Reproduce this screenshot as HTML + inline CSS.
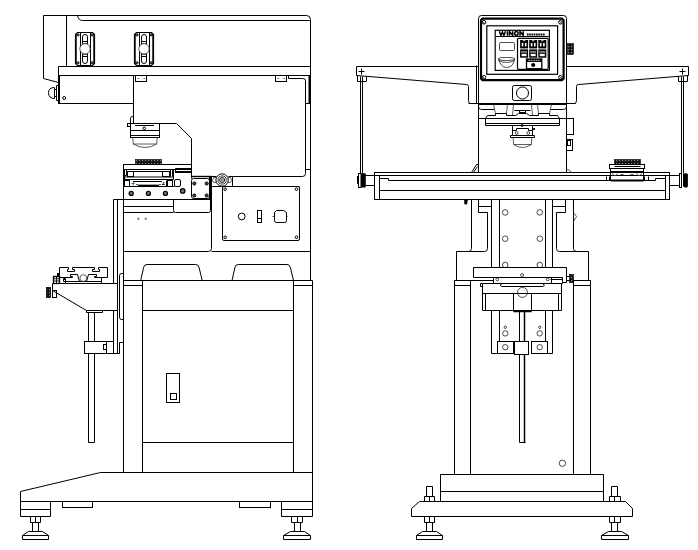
<!DOCTYPE html>
<html><head><meta charset="utf-8"><title>Pad printer drawing</title>
<style>
html,body{margin:0;padding:0;background:#fff;}
body{width:698px;height:550px;overflow:hidden;font-family:"Liberation Sans",sans-serif;}
svg{display:block;}
.l{fill:none;stroke:#000;stroke-width:1;}
.t{fill:none;stroke:#000;stroke-width:.7;}
.g{fill:none;stroke:#333;stroke-width:.8;}
.k{fill:none;stroke:#000;stroke-width:1.8;}
.w{fill:#fff;stroke:#000;stroke-width:1;}
.b{fill:#000;stroke:none;}
.d{fill:#333;stroke:#000;stroke-width:.8;}
</style></head><body>
<svg width="698" height="550" viewBox="0 0 698 550">
<defs>
<pattern id="hx" width="3" height="3" patternUnits="userSpaceOnUse"><rect width="3" height="3" fill="#111"/><rect x="1" y="1" width="1.2" height="1.2" fill="#888"/></pattern>
<g id="clamp">
<path d="M77.5,32.5H92.5L94.5,34.5V63.5L92.5,65.5H77.5L75.5,63.5V34.5Z" stroke-width="1.2"/>
<path class="t ns" d="M76.5,34V64M93.5,34V64"/>
<path d="M80.5,32.5V65.5M90.5,32.5V65.5"/>
<path class="ns" d="M82.5,37Q82.5,34.5 85,34.5Q87.5,34.5 87.5,37V61Q87.5,63.5 85,63.5Q82.5,63.5 82.5,61Z"/>
<path d="M82.5,41.5H87.5M82.5,56.5H87.5"/><path class="g ns" d="M82.5,43.5H87.5M82.5,54.5H87.5"/>
<circle cx="85" cy="48.8" r="5.2" fill="#fff" stroke="#333" stroke-width=".8"/>
<g stroke-width=".9" fill="#999"><circle cx="78.1" cy="34.9" r="1.1"/><circle cx="92.1" cy="34.9" r="1.1"/><circle cx="78.1" cy="62.8" r="1.1"/><circle cx="92.1" cy="62.8" r="1.1"/></g>
</g>
</defs>
<rect width="698" height="550" fill="#fff"/>
<!-- ================= LEFT MACHINE (side view) ================= -->
<g class="l">
<!-- top housing -->
<path d="M43.5,78.5V15.5H306.5Q310.5,15.5,310.5,19.5V280.5"/>
<path d="M43.5,78.5L58.5,82.5"/>
<path d="M66.5,15.5V66.5"/>
<path d="M77.5,15.5Q78.5,20.5,82.5,20.5H310.5"/>
<path d="M58.5,66.5H310.5M58.5,75.5H310.5"/>
<path d="M58.5,66.5V75.5"/><rect class="b" x="58" y="75" width="2" height="29"/>
<path d="M58.5,103.5H133.5M133.5,75.5V123.5"/>
<circle cx="64.2" cy="98" r="1.5"/>
<!-- knob -->
<path d="M56.5,85.5H58.5V100.5H56.5ZM54.5,89.5H56.5M54.5,96.5H56.5"/>
<path d="M54.5,87.5V98.5Q48.5,98.5,48.5,92.5Q48.5,87.5,54.5,87.5Z"/>
<!-- clamps -->
<use href="#clamp"/>
<use href="#clamp" x="59"/>
<!-- brackets under housing -->
<rect x="135.5" y="75.5" width="11" height="6"/>
<rect x="275.5" y="75.5" width="11" height="6"/>
<path class="g" d="M137.5,78.5h1.6M143.5,78.5h1.6M277.5,78.5h1.6M283.5,78.5h1.6"/>
<path d="M288.5,75.5V78.5H302.5Q305.5,78.5,305.5,80.5V173.5Q305.5,176.5,302.5,176.5H232.5V186.5"/>
<rect class="b ns" x="308.5" y="75" width="2" height="29"/>
<path d="M305.5,103.5H310.5M305.5,169.5H310.5"/>
<!-- pad head -->
<path d="M130.5,123.5H176.5L191.5,138.5V178.5"/>
<rect x="130.5" y="123.5" width="29" height="14"/>
<path d="M130.5,130.5H159.5M130.5,135.5H159.5"/>
<path class="ns" d="M135,125.5H154"/>
<circle cx="144.2" cy="128.3" r="1.3"/>
<path d="M130.5,123.5V118.5Q130.5,116.5,132.5,116.5H133.5"/>
<rect x="127.5" y="123.5" width="3" height="3"/>
<path class="g ns" d="M132.8,137.5L133.3,144H156.7L157.2,137.5" stroke="#222"/>
<path class="g ns" d="M133.3,144Q145,151 156.7,144" stroke="#222"/>
</g>
<g class="l">
<!-- cliche block + plate -->
<rect x="135.5" y="159.5" width="26" height="5" fill="url(#hx)" stroke-width=".6"/>
<rect x="123.5" y="164.5" width="68" height="5"/>
<!-- ink cup carriage -->
<path d="M124.5,169.5V186.5M126.5,169.5V175.5H124.5M127.5,171.5H169.5M170.5,169.5V176.5M172.5,169.5V176.5M173.5,169.5V179.5"/>
<rect x="127.5" y="171.5" width="6" height="5"/>
<rect x="162.5" y="171.5" width="7" height="5"/>
<path class="l ns" d="M124.5,177H173.5M124.5,179.5H173.5M133,181.5H162"/>
<rect x="124.5" y="180.5" width="5" height="6"/>
<rect x="167.5" y="180.5" width="5" height="6"/>
<path d="M166.5,180.5V186.5"/>
<rect x="174.5" y="179.5" width="6" height="7" rx="1.5"/>
<path class="ns" d="M138,185.5H159" stroke-width="1.7"/>
<path class="g ns" d="M136,184.5H138M159,184.5H161"/>
<path class="ns" stroke="#090" stroke-width=".8" d="M131.3,183.5h3.6M133.2,182v3.6M162.3,183h2.6M163.6,181.8v2.4"/>
<path class="ns" d="M162,184.5H164.7" stroke-width=".9"/>
<!-- bar right of carriage -->
<path d="M175.5,168.5H191.5M175.5,168.5V172.5"/>
<rect class="b" x="175" y="171" width="17" height="2"/>
<!-- lower block -->
<path d="M123.5,169.5V199.5M123.5,186.5H174.5"/>
<g fill="#777" stroke-width="1.3"><circle cx="131.2" cy="193.4" r="2"/><circle cx="148.4" cy="193.4" r="2"/><circle cx="165.4" cy="193.4" r="2"/><circle cx="182.7" cy="190.9" r="2.2"/></g>
<!-- motor plate -->
<path d="M191.5,176.5H211.5" stroke-width="1.4"/>
<rect x="191.5" y="178.5" width="18" height="20" rx="2.2"/>
<g fill="#444" stroke-width=".9"><circle cx="194.3" cy="183.5" r="1.6"/><circle cx="206.7" cy="183.5" r="1.6"/><circle cx="194.3" cy="195.5" r="1.6"/><circle cx="206.7" cy="195.5" r="1.6"/></g>
<rect class="b" x="209" y="176" width="3" height="23"/>
<!-- roller -->
<path d="M211.5,176.5H216.5M228.5,176.5H232.5M211.5,186.5H299.5"/>
<path class="g" d="M216.5,177.5H213.5L212.5,180.5L213.5,182.5H216.5M227.5,177.5H230.5L231.5,180.5L230.5,182.5H227.5"/>
<circle cx="222.1" cy="180" r="6.2" fill="#fff"/><circle cx="222.1" cy="180" r="4.1" stroke="#222" stroke-width=".9"/><circle cx="222.1" cy="180" r="2.5" stroke-width=".9"/><circle cx="222.1" cy="180" r="1.1" class="g" stroke-width=".5"/>
<!-- horizontal below -->
<path d="M113.5,199.5H211.5"/>
<path d="M123.5,206.5H173.5M123.5,212.5H173.5"/>
<path d="M173.5,199.5V210.5Q173.5,212.5,175.5,212.5H208.5Q210.5,212.5,210.5,210.5V199.5"/>
<path d="M211.5,176.5V248.5Q211.5,251.5,208.5,251.5H124.5Q123.5,251.5,123.5,252.5"/>
<path d="M211.5,251.5H310.5"/>
<path class="ns" stroke="none" d="M137,218.8l1.3,-1.5l1.3,1.5l-1.3,1.5zM144.5,218.8l1.3,-1.5l1.3,1.5l-1.3,1.5z" fill="#777"/>
<!-- control panel -->
<rect x="222.5" y="186.5" width="77" height="54" rx="1.5"/>
<circle cx="225.2" cy="189.2" r="1.3"/><circle cx="296.5" cy="189.2" r="1.3"/><circle cx="225.2" cy="237.3" r="1.3"/><circle cx="296.5" cy="237.3" r="1.3"/>
<circle cx="241.7" cy="216.5" r="3.4"/>
<rect x="257.5" y="210.5" width="4" height="12"/><path d="M257.5,218.5H261.5"/>
<path d="M274.5,212.5V220.5Q274.5,222.5,276.5,222.5H284.5Q286.5,222.5,286.5,220.5V212.5L283.5,210.5H276.5Z"/>
<path class="t" d="M272.5,216.5H274.5M286.5,216.5H287.5"/>
<!-- column -->
<path d="M113.5,199.5V283.5M113.5,310.5V353.5M117.5,199.5V353.5M123.5,199.5V472.5"/>
</g>
<g class="l">
<!-- cabinet -->
<path d="M123.5,280.5H312.5V516.5"/>
<path d="M123.5,285.5H142.5M293.5,285.5H312.5"/>
<path d="M142.5,280.5V472.5M293.5,280.5V472.5"/>
<path d="M142.5,310.5H293.5M142.5,442.5H293.5"/>
<path class="ns" d="M140.7,280.5L143.7,267.2Q144.3,264.5 147,264.5H195.7Q198.4,264.5 199,267.2L202.2,280.5"/>
<path class="ns" d="M232,280.5L235,267.2Q235.6,264.5 238.3,264.5H287Q289.7,264.5 290.3,267.2L293.5,280.5"/>
<rect x="166.5" y="373.5" width="13" height="29"/>
<rect x="170.5" y="393.5" width="6" height="6"/>
<!-- base -->
<path d="M312.5,472.5H100.5L20.5,491.5V516.5H50.5V501.5"/>
<path d="M20.5,501.5H312.5M20.5,509.5H50.5M281.5,509.5H312.5M281.5,501.5V516.5H312.5"/>
<rect x="62.5" y="501.5" width="30" height="6"/>
<rect x="239.5" y="501.5" width="31" height="6"/>
<!-- feet -->
<path d="M30.5,516.5V522.5H40.5V516.5M35.5,516.5V522.5M32.5,522.5V531.5M38.5,522.5V531.5M28.5,531.5H42.5L48.5,535.5V539.5H22.5V535.5ZM22.5,535.5H48.5"/>
<path d="M291.5,516.5V522.5H302.5V516.5M297.5,516.5V522.5M294.5,522.5V531.5M300.5,522.5V531.5M290.5,531.5H304.5L310.5,535.5V539.5H283.5V535.5ZM283.5,535.5H310.5"/>
<!-- handle on column -->
<path d="M123.5,273.5H121.5Q119.5,273.5,119.5,275.5V317.5Q119.5,319.5,121.5,319.5H123.5M123.5,342.5H119.5V353.5H113.5"/>
<!-- side table bracket -->
<path d="M117.5,283.5H52.5V290.5L86.5,310.5H117.5"/>
<path d="M86.5,310.5V312.5H102.5V310.5"/>
<path d="M88.5,312.5V341.5M94.5,312.5V341.5M88.5,353.5V442.5H94.5V353.5"/>
<rect x="84.5" y="341.5" width="29" height="12"/>
<path d="M106.5,341.5V353.5"/><rect x="103.5" y="344.5" width="3" height="5"/>
<!-- T-slot table -->
<path d="M59.5,283.5V267.5H68.5V269.5H67.5V271.5H74.5V269.5H72.5V267.5H94.5V269.5H92.5V271.5H99.5V269.5H98.5V267.5H107.5V277.5H94.5V276.5H96.5V274.5H88.5L86.5,281.5M59.5,277.5H72.5V276.5H70.5V274.5H77.5L79.5,281.5"/>
<path d="M65.5,281.5H101.5M101.5,277.5V283.5M63.5,278.5H65.5V283.5M63.5,278.5V281.5H65.5"/><rect class="b" x="64" y="279" width="1" height="1"/>
<circle cx="83.3" cy="278.1" r="3.4" class="g"/>
<rect x="53.5" y="276.5" width="6" height="7" stroke-width="1.3"/><path class="ns" d="M56.5,276.5V283.5M53.5,278.7H59.5M53.5,281H59.5" stroke-width=".9"/>
<rect class="b" x="57" y="273" width="2" height="3"/>
<rect x="46.5" y="287.5" width="4" height="10" fill="url(#hx)" stroke-width=".8"/>
<rect x="52.5" y="290.5" width="4" height="7"/>
</g>
<!-- ================= RIGHT MACHINE (front view) ================= -->
<defs>
<g id="rhalf">
<!-- wing -->
<path d="M478.5,66.5H356.5V75.5L466.5,84.5Q468.5,84.5,468.5,86.5V100.5Q468.5,103.5,470.5,103.5H478.5"/>
<!-- table left end -->
<circle cx="505.2" cy="212.4" r="2.8" class="t"/><circle cx="505.2" cy="238.7" r="2.8" class="t"/><circle cx="505.2" cy="265" r="2.8" class="t"/>
<!-- slide half -->
<path d="M493.5,277.5V283.5"/>
<circle cx="497.3" cy="279.4" r="1.4" class="t"/>
<!-- clamp half -->
<rect x="497.5" y="341.5" width="16" height="12"/>
<circle cx="505.3" cy="347.2" r="2.7" class="t"/><circle cx="505.3" cy="333.4" r="2.7" class="t"/><circle cx="505.3" cy="327.3" r="1.2" class="t"/>
</g>
</defs>
<g class="l">
<use href="#rhalf"/>
<use href="#rhalf" transform="translate(1045,0) scale(-1,1)"/>
<!-- under table L -->
<path d="M471.5,199.5V248.5Q471.5,251.5,468.5,251.5"/>
<path d="M478.5,199.5V212.5H487.5V248.5Q487.5,251.5,484.5,251.5H456.5V280.5"/>
<path d="M478.5,206.5H491.5"/>
<path d="M491.5,199.5V267.5M499.5,199.5V267.5M491.5,310.5V353.5M499.5,310.5V341.5"/>
<path d="M493.5,280.5H454.5V474.5M470.5,280.5V474.5M454.5,285.5H470.5"/>
<!-- under table R -->
<path d="M573.5,199.5V248.5Q573.5,251.5,576.5,251.5"/>
<path d="M565.5,199.5V212.5H556.5V248.5Q556.5,251.5,559.5,251.5H588.5V280.5"/>
<path d="M565.5,206.5H552.5"/>
<path d="M552.5,199.5V267.5M545.5,199.5V267.5M552.5,310.5V353.5M545.5,310.5V341.5"/>
<path d="M573.5,280.5H590.5V474.5M573.5,280.5V474.5M573.5,285.5H590.5"/>
<!-- base -->
<path d="M440.5,501.5V474.5H603.5V501.5M440.5,491.5H603.5"/>
<path d="M419.5,501.5L411.5,508.5V516.5H632.5V508.5L625.5,501.5Z"/>
<path d="M426.5,496.5V486.5H432.5V496.5M424.5,501.5V496.5H434.5V501.5M429.5,496.5V501.5"/>
<path d="M424.5,516.5V522.5H434.5V516.5M429.5,516.5V522.5M426.5,522.5V531.5M432.5,522.5V531.5M422.5,531.5H436.5L442.5,535.5V539.5H416.5V535.5ZM416.5,535.5H442.5"/>
<path d="M611.5,496.5V486.5H617.5V496.5M609.5,501.5V496.5H620.5V501.5M614.5,496.5V501.5"/>
<path d="M609.5,516.5V522.5H620.5V516.5M614.5,516.5V522.5M611.5,522.5V531.5M617.5,522.5V531.5M608.5,531.5H621.5L628.5,535.5V539.5H601.5V535.5ZM601.5,535.5H628.5"/>
<!-- table -->
<rect class="ns" x="374.5" y="172.5" width="295" height="27"/>
<path class="ns" d="M374.5,175.5H669.5M379.5,175.5V199.5M665.5,175.5V199.5M379.5,190.5H665.5M388.5,180.5H655.5M379.5,178.5H388.5V180.5M665.5,178.5H655.5V180.5"/>
<!-- left knob/rod -->
<path d="M358.5,71.5H364.5M361.5,68.5V74.5"/>
<path d="M357.5,75.5V81.5H366.5V76.5"/>
<path d="M360.5,76.5V175.5M362.5,76.5V175.5"/>
<path d="M365.5,175.5H374.5M365.5,185.5H374.5"/>
<rect class="b ns" x="361" y="173.3" width="4.8" height="14.2" rx="1"/>
<rect class="ns" x="358.5" y="173.5" width="2.5" height="14" fill="#fff"/>
<rect class="b ns" x="357" y="176" width="1.2" height="7.8"/>
<!-- right knob/rod -->
<path d="M679.5,71.5H685.5M682.5,68.5V74.5"/>
<path d="M678.5,76.5V81.5H687.5V75.5"/>
<path d="M681.5,76.5V173.5M683.5,76.5V173.5"/>
<path d="M669.5,175.5H679.5M669.5,185.5H679.5"/>
<rect class="ns" x="679.5" y="173.5" width="2" height="14" fill="#fff"/>
<path d="M683.5,173.5V186.5"/>
<rect class="b ns" x="683.6" y="173.2" width="4.3" height="14.4" rx="1.6"/>
<!-- control box -->
<path d="M478.5,172.5V18.5Q478.5,15.5,481.5,15.5H563.5Q566.5,15.5,566.5,18.5V172.5"/>
<path d="M476.5,65.5V103.5" />
<path class="ns" d="M482.6,18.6H562L563.6,20.2V78.6L562,80.2H482.6L481,78.6V20.2Z" stroke-width="2.2"/>
<rect x="486.8" y="25.8" width="70.8" height="48.5" stroke-width="1.2"/>
<circle cx="484" cy="22.3" r="1.8"/><circle cx="560.4" cy="22.3" r="1.8"/><circle cx="484" cy="77.3" r="1.8"/><circle cx="560.4" cy="77.3" r="1.8"/>
<path class="t" d="M482.5,21.5l2.4,2.4M559.5,21.5l2.4,2.4M482.5,76.5l2.4,2.4M559.5,76.5l2.4,2.4"/>
<!-- display -->
<rect x="495.2" y="30.3" width="54.2" height="40.1" stroke-width="1.2"/>
<path d="M495.5,36.5H549.5"/>
<path class="ns" d="M499.3,31.3L500.9,35.5L502.4,32L503.9,35.5L505.5,31.3M507.4,31.2V35.7M509.4,35.7V31.4L512.7,35.5V31.2M520,35.7V31.4L523.2,35.5V31.2" stroke-width="1.5" stroke-linejoin="miter"/>
<ellipse cx="516.4" cy="33.45" rx="1.7" ry="1.85" stroke-width="1.5"/>
<path class="ns" d="M526.8,34.6H544.8" stroke="#111" stroke-width="2" stroke-dasharray="1.8 .5"/>
<rect x="499.5" y="42.5" width="15" height="8" rx="1.2" class="t" stroke="#222"/>
<path class="t" d="M498.5,58.5Q498.5,57.5,506.5,57.5Q514.5,57.5,514.5,58.5Q514.5,60.5,506.5,60.5Q498.5,60.5,498.5,58.5Q500.5,67.5,506.5,67.5Q513.5,67.5,514.5,58.5M498.5,60.5Q506.5,64.5,514.5,60.5"/>
<!-- keypad -->
<rect x="517.5" y="38.4" width="30.7" height="31" rx="1.2" stroke-width="1.2"/>
<rect class="b ns" x="520.1" y="40" width="8" height="8.4"/><rect class="b ns" x="520.1" y="49.4" width="8" height="8.3"/><rect class="b ns" x="529.2" y="40" width="8" height="8.4"/><rect class="b ns" x="529.2" y="49.4" width="8" height="8.3"/><rect class="b ns" x="538.3" y="40" width="8" height="8.4"/><rect class="b ns" x="538.3" y="49.4" width="8" height="8.3"/>
<g fill="#fff" stroke="none"><rect class="ns" x="521.7" y="43" width="1.6" height="3.4"/><rect class="ns" x="524.9" y="43" width="1.6" height="3.4"/><rect class="ns" x="522.9" y="40.3" width="2.4" height=".9"/><rect class="ns" x="521.1" y="51.5" width="6" height=".9"/><rect class="ns" x="521.6" y="53.8" width="5" height="2.4"/><rect class="ns" x="530.8" y="43" width="1.6" height="3.4"/><rect class="ns" x="534.0" y="43" width="1.6" height="3.4"/><rect class="ns" x="532.0" y="40.3" width="2.4" height=".9"/><rect class="ns" x="530.2" y="51.5" width="6" height=".9"/><rect class="ns" x="530.7" y="53.8" width="5" height="2.4"/><rect class="ns" x="539.9" y="43" width="1.6" height="3.4"/><rect class="ns" x="543.1" y="43" width="1.6" height="3.4"/><rect class="ns" x="541.1" y="40.3" width="2.4" height=".9"/><rect class="ns" x="539.3" y="51.5" width="6" height=".9"/><rect class="ns" x="539.8" y="53.8" width="5" height="2.4"/></g>
<rect class="ns" x="526.5" y="59" width="15.3" height="9.7" fill="#fff" stroke-width="1.3"/>
<rect class="b ns" x="526.5" y="59" width="15.3" height="3"/>
<path class="ns" d="M528.5,60.4H540" stroke="#fff" stroke-width=".8" stroke-dasharray="1.6 .8"/>
<circle class="b" cx="533.2" cy="65" r="2.1"/>
<!-- knob at right -->
<rect x="567.5" y="43.5" width="6" height="11" fill="url(#hx)" stroke-width=".6"/>
<!-- button -->
<rect x="512.5" y="85.5" width="19" height="15" rx="1.8"/>
<circle cx="522.5" cy="93" r="6"/>
<path d="M468.5,103.5H575.5M478.5,104.5H566.5"/>
</g>
<defs>
<g id="chalf">
<path d="M478.5,106.5Q478.5,109.5,481.5,109.5H494.5"/>
<path class="g" d="M493.5,104.5L495.5,113.5M507.5,104.5L506.5,113.5M513.5,104.5L512.5,115.5"/>
<path d="M495.5,113.5H506.5V115.5H515.5L518.5,113.5H524.5M487.5,115.5H495.5V113.5"/>
<path d="M514.5,110.5H519.5V112.5M519.5,110.5H524.5"/>
<path d="M478.5,118.5H485.5L487.5,115.5M485.5,118.5V125.5H524.5M485.5,118.5H524.5M485.5,123.5H524.5"/>
<path d="M512.5,125.5V135.5H510.5V137.5H524.5M512.5,135.5H524.5M512.5,130.5H516.5V128.5H524.5"/>
<circle cx="516.7" cy="133" r="1.4" class="t"/>
</g>
</defs>
<g class="l">
<use href="#chalf"/>
<use href="#chalf" transform="translate(1045,0) scale(-1,1)"/>
<path class="g ns" d="M513.2,137.5L513.6,144.5H531.4L531.8,137.5M513.6,144.5Q522.5,150.5 531.4,144.5" stroke="#222"/>
<rect class="b" x="519" y="112" width="7" height="2"/>
<circle cx="522" cy="125.4" r="1.3" class="t" fill="#fff"/>
<rect class="b" x="533" y="128" width="2" height="2" rx=".6"/>
<!-- gusset left / fillet right -->
<path d="M471.5,172.5L476.5,164.5H478.5M473.5,172.5L477.5,166.5"/>
<path class="g" d="M566.5,169.5Q570.5,169.5,571.5,172.5"/>
<!-- right side boxes -->
<rect x="566.5" y="118.5" width="7" height="16"/>
<rect x="566.5" y="139.5" width="6" height="11"/>
<rect x="567.5" y="140.5" width="3" height="5"/>
<!-- bolt, diamond -->
<path class="b ns" d="M464.2,200h4l-.8,1.2v2q0,1.4 -1.6,1.4q-1.6,0 -1.6,-1.4z"/>
<path class="g" d="M573.5,212.5L576.5,216.5L573.5,221.5"/>
<!-- column plate -->
<path d="M473.5,267.5H566.5V282.5H562.5V277.5H473.5Z" fill="#fff"/>
<circle cx="522.1" cy="275.1" r="1.5" class="t"/>
<path d="M493.5,283.5H562.5V277.5M550.5,279.5H562.5M566.5,276.5H569.5M566.5,280.5H569.5"/>
<rect x="569.5" y="274.5" width="4" height="8" fill="url(#hx)" stroke-width=".7"/>
<!-- slide -->
<path d="M482.5,283.5H480.5V286.5H482.5"/>
<path class="ns" d="M482.5,283.5H502.5L500,285.3L501.5,286.5H543L544.5,285.3L542.5,283.5H561.5"/>
<path class="ns" d="M482.5,283.5V310.5H561.5V283.5M482.5,293.5H561.5M485.5,293.5V310.5M558.5,293.5V310.5"/>
<circle cx="522.5" cy="292.4" r="5" fill="#fff" class="t" stroke="#222"/>
<path d="M513.5,293.5V311.5M531.5,293.5V311.5"/>
<path d="M513.5,311.5H531.5" stroke-width="1.5"/>
<!-- rod and clamp -->
<path d="M519.5,311.5V341.5M519.5,354.5V442.5H525.5M491.5,353.5H497.5M547.5,353.5H552.5"/>
<path d="M524.5,311.5V341.5M524.5,354.5V442.5" stroke-width="1.5"/>
<rect x="514.5" y="341.5" width="14" height="13"/>
<circle cx="562.4" cy="463.3" r="3.2" class="t"/>
<!-- fixture on table -->
<rect x="614.5" y="159.5" width="26" height="5" fill="url(#hx)" stroke-width=".6"/>
<rect x="609.5" y="164.5" width="35" height="4" fill="#fff"/>
<path d="M614.5,166.5H640.5M610.5,168.5V180.5H643.5V168.5M610.5,171.5H643.5M612.5,172.5H641.5" />
<path class="ns" d="M611,180.5H643.5" stroke-width="2"/>
<path d="M606.5,176.5V180.5M609.5,176.5V180.5M644.5,176.5V180.5M648.5,176.5V180.5"/>
<path class="g" d="M612.5,173.5l1.5,2h2l1.5-2M636.5,173.5l1.5,2h2l1.5-2M620.5,174.5h3M630.5,174.5h3"/>
</g>
</svg>
</body></html>
